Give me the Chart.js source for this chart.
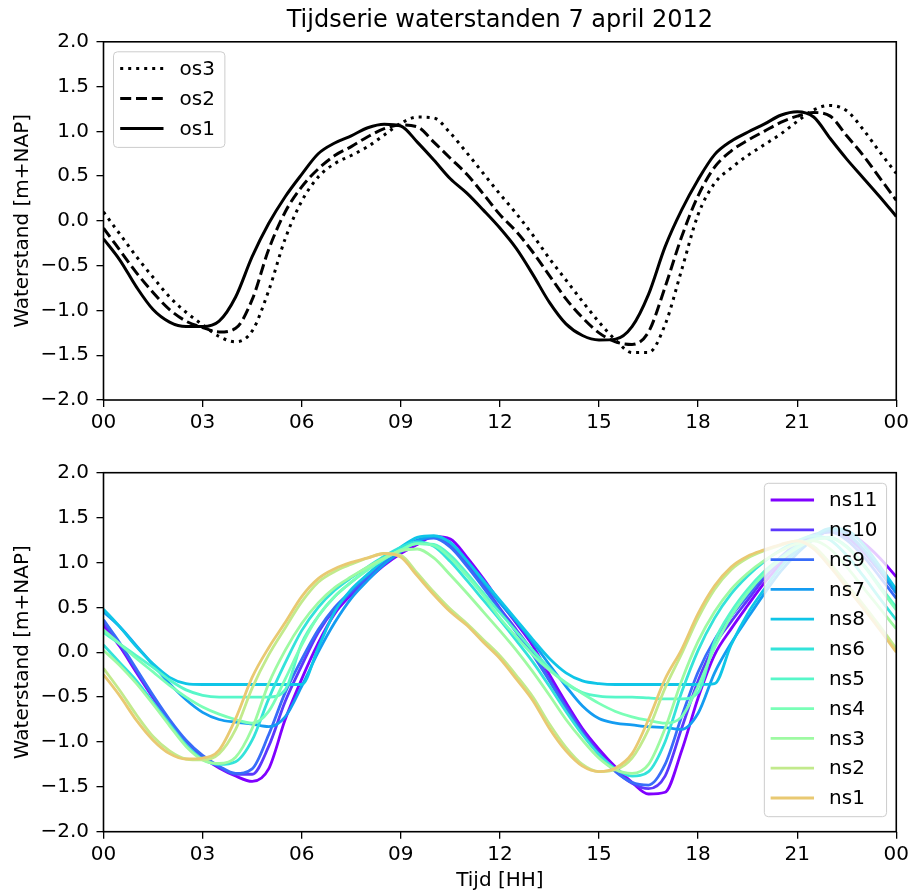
<!DOCTYPE html>
<html>
<head>
<meta charset="utf-8">
<script src="https://cdn.jsdelivr.net/npm/chart.js@4"></script>
<style>
html,body{margin:0;padding:0;background:#fff;}
#wrap{position:relative;width:913px;height:895px;overflow:hidden;}
canvas{position:absolute;left:0;}
#c1{top:0;}
#c2{top:440px;}
</style>
</head>
<body>
<div id="wrap">
<canvas id="c1" width="913" height="440"></canvas>
<canvas id="c2" width="913" height="455"></canvas>
</div>
<script>
// ---------- data ----------
const hours = [0,0.5,1,1.5,2,2.5,3,3.5,4,4.5,5,5.5,6,6.5,7,7.5,8,8.5,9,9.5,10,10.5,11,11.5,12,12.5,13,13.5,14,14.5,15,15.5,16,16.5,17,17.5,18,18.5,19,19.5,20,20.5,21,21.5,22,22.5,23,23.5,24];

const xTickLabels = ['00','03','06','09','12','15','18','21','00'];
const yTickLabels = ['\u22122.0','\u22121.5','\u22121.0','\u22120.5','0.0','0.5','1.0','1.5','2.0'];

const os1 = [-0.20,-0.44,-0.74,-0.99,-1.13,-1.18,-1.18,-1.12,-0.85,-0.40,-0.03,0.27,0.52,0.75,0.87,0.95,1.04,1.08,1.06,0.88,0.68,0.47,0.31,0.12,-0.08,-0.31,-0.60,-0.91,-1.15,-1.28,-1.33,-1.32,-1.18,-0.82,-0.29,0.12,0.46,0.74,0.89,0.99,1.08,1.18,1.22,1.16,0.92,0.69,0.48,0.27,0.05];
const os2 = [-0.08,-0.33,-0.58,-0.80,-0.99,-1.12,-1.19,-1.24,-1.20,-0.88,-0.32,0.10,0.38,0.58,0.73,0.83,0.94,1.03,1.07,1.05,0.88,0.70,0.52,0.30,0.07,-0.12,-0.35,-0.61,-0.87,-1.08,-1.25,-1.35,-1.38,-1.24,-0.74,-0.18,0.28,0.60,0.78,0.90,1.00,1.10,1.17,1.21,1.17,0.95,0.73,0.48,0.23];
const os3 = [0.10,-0.15,-0.40,-0.63,-0.85,-1.02,-1.16,-1.29,-1.35,-1.23,-0.78,-0.20,0.22,0.49,0.64,0.73,0.83,0.96,1.09,1.16,1.15,0.98,0.76,0.53,0.30,0.08,-0.16,-0.42,-0.66,-0.90,-1.13,-1.33,-1.47,-1.47,-1.16,-0.55,0.07,0.42,0.59,0.73,0.85,0.97,1.11,1.24,1.29,1.23,1.02,0.77,0.53];

const ns1 = [-0.25,-0.49,-0.76,-0.98,-1.13,-1.19,-1.18,-1.09,-0.74,-0.28,0.05,0.33,0.62,0.82,0.93,1.00,1.05,1.10,1.06,0.85,0.64,0.45,0.30,0.11,-0.07,-0.30,-0.54,-0.85,-1.10,-1.27,-1.33,-1.29,-1.13,-0.75,-0.30,0.03,0.43,0.74,0.95,1.07,1.14,1.20,1.24,1.15,0.95,0.72,0.49,0.25,0.00];
const ns2 = [-0.18,-0.43,-0.70,-0.94,-1.10,-1.19,-1.20,-1.13,-0.86,-0.40,-0.03,0.27,0.56,0.78,0.90,0.98,1.05,1.10,1.08,0.88,0.67,0.48,0.32,0.14,-0.04,-0.26,-0.50,-0.80,-1.06,-1.25,-1.33,-1.31,-1.18,-0.86,-0.40,-0.02,0.38,0.70,0.92,1.05,1.13,1.19,1.24,1.18,0.99,0.76,0.53,0.29,0.04];
const ns3 = [0.02,-0.15,-0.35,-0.58,-0.82,-1.05,-1.20,-1.24,-1.17,-0.85,-0.35,0.02,0.32,0.55,0.72,0.84,0.95,1.05,1.13,1.15,1.05,0.86,0.66,0.45,0.24,0.02,-0.22,-0.48,-0.75,-0.98,-1.18,-1.31,-1.35,-1.25,-0.85,-0.32,0.12,0.45,0.70,0.88,1.02,1.13,1.21,1.24,1.15,0.95,0.72,0.49,0.26];
const ns4 = [0.25,0.09,-0.07,-0.22,-0.37,-0.50,-0.61,-0.69,-0.75,-0.79,-0.66,-0.30,0.08,0.40,0.62,0.78,0.92,1.04,1.14,1.21,1.19,1.05,0.85,0.63,0.38,0.17,-0.03,-0.20,-0.34,-0.46,-0.57,-0.66,-0.72,-0.76,-0.79,-0.72,-0.38,0.05,0.40,0.66,0.87,1.03,1.16,1.25,1.27,1.17,0.97,0.72,0.47];
const ns5 = [0.22,0.09,-0.04,-0.17,-0.31,-0.42,-0.48,-0.50,-0.50,-0.50,-0.50,-0.42,0.10,0.40,0.62,0.78,0.92,1.04,1.14,1.21,1.20,1.08,0.88,0.66,0.44,0.23,0.02,-0.18,-0.35,-0.45,-0.49,-0.50,-0.50,-0.51,-0.52,-0.52,-0.45,0.12,0.45,0.70,0.90,1.05,1.18,1.26,1.28,1.18,0.98,0.74,0.50];
const ns6 = [0.08,-0.12,-0.32,-0.56,-0.80,-1.03,-1.19,-1.25,-1.22,-0.98,-0.52,-0.12,0.24,0.50,0.69,0.83,0.95,1.07,1.17,1.23,1.18,1.01,0.80,0.58,0.36,0.13,-0.11,-0.38,-0.66,-0.92,-1.14,-1.30,-1.38,-1.33,-1.00,-0.45,0.02,0.38,0.65,0.85,1.01,1.14,1.24,1.30,1.25,1.08,0.85,0.60,0.36];
const ns7 = [0.45,0.28,0.07,-0.14,-0.35,-0.53,-0.67,-0.75,-0.78,-0.80,-0.83,-0.72,-0.38,0.00,0.33,0.60,0.80,0.98,1.12,1.24,1.29,1.22,1.02,0.78,0.55,0.34,0.11,-0.14,-0.38,-0.60,-0.74,-0.79,-0.81,-0.83,-0.84,-0.86,-0.68,-0.23,0.10,0.38,0.65,0.90,1.10,1.26,1.36,1.32,1.15,0.92,0.66];
const ns8 = [0.48,0.28,0.06,-0.13,-0.28,-0.35,-0.36,-0.36,-0.36,-0.36,-0.36,-0.36,-0.36,0.05,0.45,0.70,0.87,1.03,1.17,1.28,1.30,1.22,1.02,0.80,0.58,0.36,0.14,-0.07,-0.23,-0.32,-0.35,-0.36,-0.36,-0.36,-0.36,-0.36,-0.36,-0.35,0.08,0.43,0.70,0.95,1.14,1.29,1.38,1.36,1.20,0.96,0.70];
const ns9 = [0.36,0.10,-0.19,-0.48,-0.75,-0.98,-1.15,-1.27,-1.35,-1.30,-0.92,-0.45,-0.08,0.25,0.50,0.68,0.85,1.01,1.14,1.25,1.27,1.17,0.96,0.72,0.47,0.22,-0.03,-0.32,-0.62,-0.90,-1.14,-1.33,-1.45,-1.48,-1.25,-0.72,-0.22,0.14,0.40,0.63,0.86,1.06,1.21,1.31,1.34,1.25,1.07,0.84,0.60];
const ns10 = [0.33,0.08,-0.21,-0.50,-0.77,-1.00,-1.17,-1.28,-1.36,-1.36,-1.05,-0.55,-0.15,0.22,0.48,0.66,0.83,0.99,1.12,1.23,1.28,1.20,0.99,0.75,0.49,0.25,0.00,-0.30,-0.60,-0.88,-1.12,-1.32,-1.46,-1.52,-1.38,-0.85,-0.32,0.08,0.34,0.58,0.82,1.02,1.18,1.29,1.34,1.28,1.12,0.90,0.66];
const ns11 = [0.30,0.06,-0.23,-0.51,-0.78,-1.00,-1.17,-1.29,-1.38,-1.44,-1.30,-0.75,-0.30,0.10,0.43,0.64,0.81,0.97,1.10,1.20,1.29,1.26,1.06,0.82,0.56,0.32,0.07,-0.25,-0.56,-0.85,-1.08,-1.28,-1.45,-1.58,-1.56,-1.10,-0.51,-0.03,0.26,0.52,0.77,0.98,1.15,1.27,1.35,1.34,1.22,1.05,0.84];

const topLegendOrder = ['os3','os2','os1'];
const bottomLegendOrder = ['ns11','ns10','ns9','ns7','ns8','ns6','ns5','ns4','ns3','ns2','ns1'];

// ---------- helpers ----------
const FONT = 'DejaVu Sans';
Chart.defaults.font.family = FONT;
Chart.defaults.font.size = 20;
Chart.defaults.color = '#000';

function pts(vals){ return hours.map((h,i)=>({x:h, y:vals[i]})); }
function line(label, vals, color, dash, width){
  return {label, data: pts(vals), borderColor: color, backgroundColor: color,
    borderWidth: width, borderDash: dash, pointRadius: 0, fill: false,
    cubicInterpolationMode: 'monotone', borderJoinStyle: 'round', borderCapStyle: 'butt'};
}

const framePlugin = {
  id: 'frame',
  afterDatasetsDraw(chart){
    const {ctx, chartArea: a} = chart;
    ctx.save();
    ctx.strokeStyle = '#000';
    ctx.lineWidth = 1.6;
    ctx.setLineDash([]);
    ctx.strokeRect(a.left, a.top, a.right - a.left, a.bottom - a.top);
    ctx.restore();
  }
};

const boxLegend = {
  id: 'boxLegend',
  afterDraw(chart, args, o){
    const {ctx, chartArea: a} = chart;
    const items = o.order.map(l => chart.data.datasets.find(d => d.label === l));
    ctx.save();
    ctx.font = o.fontSize + 'px "' + FONT + '"';
    const tw = Math.max(...items.map(d => ctx.measureText(d.label).width));
    const w = o.textX + tw + o.padRight;
    const h = o.firstY + (items.length - 1) * o.spacing + o.lastPad;
    const x = o.corner === 'tl' ? a.left + o.insetX : a.right - o.insetX - w;
    const y = a.top + o.insetY;
    const r = 4;
    ctx.beginPath();
    ctx.moveTo(x + r, y);
    ctx.arcTo(x + w, y, x + w, y + h, r);
    ctx.arcTo(x + w, y + h, x, y + h, r);
    ctx.arcTo(x, y + h, x, y, r);
    ctx.arcTo(x, y, x + w, y, r);
    ctx.closePath();
    ctx.fillStyle = 'rgba(255,255,255,0.8)';
    ctx.fill();
    ctx.lineWidth = 1;
    ctx.strokeStyle = '#cccccc';
    ctx.stroke();
    items.forEach((d, i) => {
      const cy = y + o.firstY + i * o.spacing;
      ctx.beginPath();
      ctx.setLineDash(d.borderDash || []);
      ctx.lineWidth = d.borderWidth;
      ctx.strokeStyle = d.borderColor;
      ctx.lineCap = 'butt';
      ctx.moveTo(x + o.lineX0, cy);
      ctx.lineTo(x + o.lineX1, cy);
      ctx.stroke();
      ctx.setLineDash([]);
      ctx.fillStyle = '#000';
      ctx.textBaseline = 'middle';
      ctx.textAlign = 'left';
      ctx.fillText(d.label, x + o.textX, cy + 1);
    });
    ctx.restore();
  }
};

function scales(xHeight, xTitle){
  return {
    x: {
      type: 'linear', min: 0, max: 24,
      ticks: {stepSize: 3, autoSkip: false, maxRotation: 0, padding: 4, color: '#000',
        font: {size: 20}, callback: (v, i) => xTickLabels[i]},
      grid: {drawOnChartArea: false, drawTicks: true, tickLength: 7, color: '#000', lineWidth: 1.3},
      border: {display: false},
      title: xTitle ? {display: true, text: xTitle, color: '#000', font: {size: 20}, padding: {top: 0, bottom: 2}} : {display: false},
      afterFit: s => { s.height = xHeight; }
    },
    y: {
      min: -2, max: 2,
      ticks: {stepSize: 0.5, autoSkip: false, padding: 7.5, color: '#000',
        font: {size: 20}, callback: (v, i) => yTickLabels[i]},
      grid: {drawOnChartArea: false, drawTicks: true, tickLength: 7, color: '#000', lineWidth: 1.3},
      border: {display: false},
      title: {display: true, text: 'Waterstand [m+NAP]', color: '#000', font: {size: 20}, padding: {top: 11, bottom: 0}},
      afterFit: s => { s.width = 103.5; }
    }
  };
}

// ---------- top chart ----------
new Chart(document.getElementById('c1'), {
  type: 'line',
  data: {datasets: [
    line('os1', os1, '#000000', [], 3),
    line('os2', os2, '#000000', [11, 4.8], 3),
    line('os3', os3, '#000000', [3, 5], 3)
  ]},
  options: {
    responsive: false, animation: false,
    layout: {padding: {left: 0, right: 15, top: 0, bottom: 0}},
    scales: scales(40, null),
    plugins: {
      legend: {display: false}, tooltip: {enabled: false},
      title: {display: true, fullSize: false, text: 'Tijdserie waterstanden 7 april 2012', color: '#000',
        font: {size: 24, weight: 'normal'}, padding: {top: 6, bottom: 7}},
      boxLegend: {order: topLegendOrder, corner: 'tl', insetX: 10, insetY: 10, fontSize: 20,
        lineX0: 6.7, lineX1: 50, textX: 66, padRight: 10, firstY: 16.6, spacing: 30, lastPad: 19}
    }
  },
  plugins: [framePlugin, boxLegend]
});

// ---------- bottom chart ----------
new Chart(document.getElementById('c2'), {
  type: 'line',
  data: {datasets: [
    line('ns1', ns1, '#e9c972', [], 2.8),
    line('ns2', ns2, '#c2ea8c', [], 2.8),
    line('ns3', ns3, '#9efaa2', [], 2.8),
    line('ns4', ns4, '#7affb7', [], 2.8),
    line('ns5', ns5, '#57f7c9', [], 2.8),
    line('ns6', ns6, '#33e3da', [], 2.8),
    line('ns8', ns8, '#0fc5e7', [], 2.8),
    line('ns7', ns7, '#149cf1', [], 2.8),
    line('ns9', ns9, '#386cf9', [], 2.8),
    line('ns10', ns10, '#5c38fd', [], 2.8),
    line('ns11', ns11, '#8000ff', [], 2.8)
  ]},
  options: {
    responsive: false, animation: false,
    layout: {padding: {left: 0, right: 15, top: 32.7, bottom: 0}},
    scales: scales(63.3, 'Tijd [HH]'),
    plugins: {
      legend: {display: false}, tooltip: {enabled: false},
      boxLegend: {order: bottomLegendOrder, corner: 'tr', insetX: 9.7, insetY: 10.6, fontSize: 20,
        lineX0: 6.3, lineX1: 49.7, textX: 64.7, padRight: 9, firstY: 16.7, spacing: 29.8, lastPad: 18.7}
    }
  },
  plugins: [framePlugin, boxLegend]
});
</script>
</body>
</html>
